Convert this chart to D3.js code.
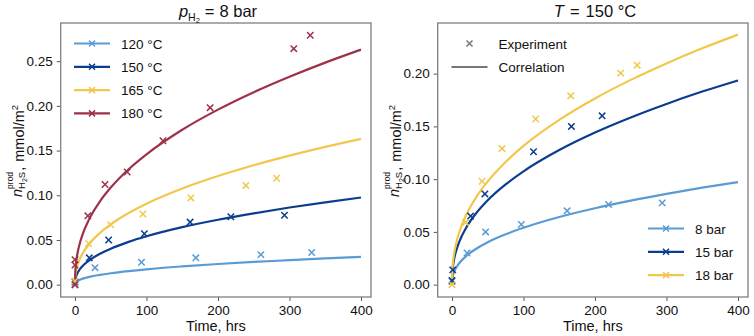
<!DOCTYPE html>
<html><head><meta charset="utf-8">
<script src="https://cdn.jsdelivr.net/npm/d3@7"></script>
<style>
body{margin:0;background:#fff;}
svg{font-family:"Liberation Sans",Arial,sans-serif;}
</style></head>
<body><svg id="c" width="754" height="336"></svg>
<script>
// ---------- data ----------
const timeGrid = [0, 0.3, 1, 3, 6, 10, 20, 35, 50, 75, 100, 150, 200, 250, 300, 350, 400];

// left panel: p_H2 = 8 bar, correlation curves
const corr120 = [0, 0.0015, 0.0024, 0.0039, 0.0052, 0.0065, 0.0087, 0.0110, 0.0128, 0.0152, 0.0172, 0.0204, 0.0231, 0.0254, 0.0274, 0.0293, 0.0310];
const corr150 = [0, 0.0046, 0.0076, 0.0122, 0.0164, 0.0203, 0.0273, 0.0346, 0.0403, 0.0479, 0.0541, 0.0643, 0.0726, 0.0798, 0.0863, 0.0921, 0.0975];
const corr165 = [0, 0.0077, 0.0128, 0.0204, 0.0274, 0.0340, 0.0456, 0.0579, 0.0674, 0.0801, 0.0905, 0.1075, 0.1215, 0.1336, 0.1443, 0.1541, 0.1631];
const corr180 = [0, 0.0123, 0.0206, 0.0329, 0.0441, 0.0548, 0.0736, 0.0933, 0.1086, 0.1291, 0.1458, 0.1733, 0.1958, 0.2153, 0.2326, 0.2484, 0.2629];

// left panel experiments
const exp120T = [0, 28, 93, 169, 260, 331];
const exp120V = [0.000, 0.019, 0.025, 0.030, 0.0336, 0.036];
const exp150T = [0, 20, 47, 97, 161, 218, 293];
const exp150V = [0.003, 0.030, 0.050, 0.057, 0.070, 0.076, 0.0776];
const exp165T = [0, 19, 50, 95, 162, 239, 282];
const exp165V = [0.004, 0.046, 0.067, 0.079, 0.097, 0.111, 0.119];
const exp180T = [0, 0, 0, 18, 42, 73, 123, 189, 306, 329];
const exp180V = [0.000, 0.022, 0.028, 0.077, 0.112, 0.126, 0.161, 0.198, 0.264, 0.279];

// right panel: T = 150 °C
const corr8bar  = [0, 0.0046, 0.0076, 0.0122, 0.0163, 0.0203, 0.0272, 0.0345, 0.0402, 0.0477, 0.0539, 0.0641, 0.0724, 0.0796, 0.0860, 0.0919, 0.0972];
const corr15bar = [0, 0.0091, 0.0152, 0.0242, 0.0325, 0.0404, 0.0542, 0.0687, 0.0800, 0.0950, 0.1074, 0.1276, 0.1442, 0.1585, 0.1713, 0.1830, 0.1936];
const corr18bar = [0, 0.0111, 0.0186, 0.0296, 0.0398, 0.0494, 0.0663, 0.0841, 0.0979, 0.1163, 0.1315, 0.1562, 0.1765, 0.1941, 0.2097, 0.2240, 0.2370];

const exp8T  = [0, 21, 47, 97, 161, 219, 294];
const exp8V  = [0.003, 0.030, 0.050, 0.057, 0.070, 0.076, 0.0775];
const exp15T = [0, 1, 26, 46, 114, 167, 210];
const exp15V = [0.004, 0.014, 0.065, 0.086, 0.126, 0.150, 0.160];
const exp18T = [0, 19, 42, 70, 117, 166, 236, 259];
const exp18V = [0.000, 0.059, 0.098, 0.129, 0.157, 0.179, 0.2005, 0.208];

const leftLabels  = ["120 °C", "150 °C", "165 °C", "180 °C"];
const rightLabels = ["8 bar", "15 bar", "18 bar"];
const xTicks = [0, 100, 200, 300, 400];
const leftYTicks  = [0, 0.05, 0.10, 0.15, 0.20, 0.25];
const rightYTicks = [0, 0.05, 0.10, 0.15, 0.20];

const cLight = "#5b9bd5", cDark = "#0b3d8e", cYellow = "#f1c74c", cRed = "#9d3249";

// ---------- drawing ----------
const svg = d3.select("#c");
const xDomain = [-20, 414];
const plotTop = 23, plotBottom = 297;

function cross(g, x, y, color, s) {
  g.append("path").attr("d", `M${x-s},${y-s}L${x+s},${y+s}M${x-s},${y+s}L${x+s},${y-s}`)
    .attr("stroke", color).attr("stroke-width", 1.5).attr("fill", "none");
}

function panel(opt) {
  const g = svg.append("g");
  const x = d3.scaleLinear().domain(xDomain).range([opt.left, opt.right]);
  const y = d3.scaleLinear().domain(opt.yDomain).range([plotBottom, plotTop]);

  const xa = g.append("g").attr("transform", `translate(0,${plotBottom})`)
    .call(d3.axisBottom(x).tickValues(xTicks).tickSize(4).tickPadding(4).tickFormat(d3.format("d")));
  const ya = g.append("g").attr("transform", `translate(${opt.left},0)`)
    .call(d3.axisLeft(y).tickValues(opt.yTicks).tickSize(4).tickPadding(4).tickFormat(d3.format(".2f")));
  [xa, ya].forEach(a => {
    a.select(".domain").remove();
    a.selectAll(".tick line").attr("stroke", "#555").attr("stroke-width", 1);
    a.selectAll(".tick text").attr("font-size", 13.5).attr("fill", "#111")
      .attr("font-family", "Liberation Sans, Arial, sans-serif");
  });

  const line = d3.line().x((d, i) => x(timeGrid[i])).y(d => y(d)).curve(d3.curveMonotoneX);
  opt.series.forEach(s => {
    g.append("path").attr("d", line(s.corr)).attr("fill", "none")
      .attr("stroke", s.color).attr("stroke-width", 2.2);
  });
  opt.series.forEach(s => {
    s.t.forEach((t, i) => cross(g, x(t), y(s.v[i]), s.color, 3.2));
  });

  g.append("rect").attr("x", opt.left).attr("y", plotTop).attr("width", opt.right - opt.left)
    .attr("height", plotBottom - plotTop).attr("fill", "none").attr("stroke", "#7f7f7f").attr("stroke-width", 1.3);

  g.append("text").attr("x", (opt.left + opt.right) / 2).attr("y", 331).attr("text-anchor", "middle")
    .attr("font-size", 14.5).attr("fill", "#111").text("Time, hrs");

  const yl = g.append("text").attr("transform", `translate(${opt.left - 39},${opt.yLabelY}) rotate(-90)`)
    .attr("font-size", 14.5).attr("fill", "#111");
  yl.append("tspan").attr("font-style", "italic").text("n");
  yl.append("tspan").attr("font-size", 8.5).attr("dy", -9).text("prod");
  yl.append("tspan").attr("font-size", 9.5).attr("dx", -17).attr("dy", 12).text("H");
  yl.append("tspan").attr("font-size", 7).attr("dy", 2).text("2");
  yl.append("tspan").attr("font-size", 9.5).attr("dy", -2).text("S");
  yl.append("tspan").attr("dy", -1).attr("dx", 1).text(",");
  yl.append("tspan").attr("dx", 5).text("mmol/m");
  yl.append("tspan").attr("font-size", 9.5).attr("dy", -6).text("2");

  return {g, x, y};
}

panel({
  left: 60.7, right: 371, yDomain: [-0.0138, 0.2927], yTicks: leftYTicks, yLabelY: 197,
  series: [
    {corr: corr120, t: exp120T, v: exp120V, color: cLight},
    {corr: corr150, t: exp150T, v: exp150V, color: cDark},
    {corr: corr165, t: exp165T, v: exp165V, color: cYellow},
    {corr: corr180, t: exp180T, v: exp180V, color: cRed}
  ]
});
panel({
  left: 437.7, right: 748, yDomain: [-0.0117, 0.248], yTicks: rightYTicks, yLabelY: 197,
  series: [
    {corr: corr8bar, t: exp8T, v: exp8V, color: cLight},
    {corr: corr15bar, t: exp15T, v: exp15V, color: cDark},
    {corr: corr18bar, t: exp18T, v: exp18V, color: cYellow}
  ]
});

const t1 = svg.append("text").attr("x", 218).attr("y", 17).attr("text-anchor", "middle")
  .attr("font-size", 16.5).attr("fill", "#111");
t1.append("tspan").attr("font-style", "italic").text("p");
t1.append("tspan").attr("font-size", 10.5).attr("dy", 4).text("H");
t1.append("tspan").attr("font-size", 7.5).attr("dy", 2).text("2");
t1.append("tspan").attr("dy", -6).attr("dx", 5).text("=");
t1.append("tspan").attr("dx", 5).text("8 bar");

const t2 = svg.append("text").attr("x", 595).attr("y", 17).attr("text-anchor", "middle")
  .attr("font-size", 16.5).attr("fill", "#111");
t2.append("tspan").attr("font-style", "italic").text("T");
t2.append("tspan").attr("dx", 6).text("=");
t2.append("tspan").attr("dx", 6).text("150 °C");

function legendRow(x0, y0, color, label, withLine, withMarker) {
  if (withLine) svg.append("line").attr("x1", x0).attr("x2", x0 + 36).attr("y1", y0).attr("y2", y0)
    .attr("stroke", color).attr("stroke-width", 2.2);
  if (withMarker) cross(svg, x0 + 18, y0, color, 3);
  svg.append("text").attr("x", x0 + 47).attr("y", y0 + 5).attr("font-size", 13.5).attr("fill", "#111").text(label);
}
const leftColors = [cLight, cDark, cYellow, cRed];
leftLabels.forEach((lab, i) => legendRow(74, 43.5 + i * 23.3, leftColors[i], lab, true, true));
const rightColors = [cLight, cDark, cYellow];
rightLabels.forEach((lab, i) => legendRow(648, 228.5 + i * 23.3, rightColors[i], lab, true, true));
legendRow(451.5, 43.5, "#777", "Experiment", false, true);
legendRow(451.5, 67, "#777", "Correlation", true, false);
</script></body></html>
